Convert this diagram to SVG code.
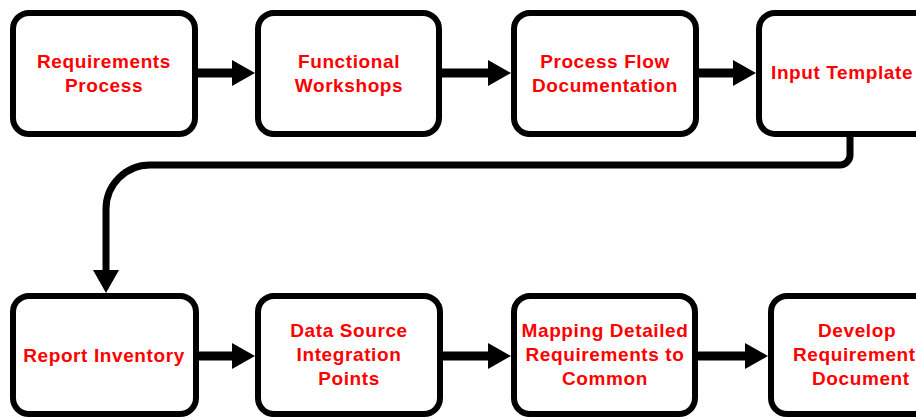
<svg xmlns="http://www.w3.org/2000/svg" width="916" height="419" viewBox="0 0 916 419">
  <style>
    .box { fill: #ffffff; stroke: #000000; stroke-width: 6; }
    .lbl { font-family: "Liberation Sans", Arial, sans-serif; font-weight: bold; font-size: 19px; fill: #ff0000; letter-spacing: 0.6px; }
    .mid { text-anchor: middle; }
    .shaft { fill: none; stroke: #000000; stroke-width: 9; }
    .conn { fill: none; stroke: #000000; stroke-width: 7; }
  </style>
  <defs>
    <marker id="ah" markerUnits="userSpaceOnUse" markerWidth="23" markerHeight="26" viewBox="0 0 23 26" refX="5" refY="13" orient="auto">
      <path d="M0,0 L23,13 L0,26 Z" fill="#000000"/>
    </marker>
  </defs>
  <rect width="916" height="419" fill="#ffffff"/>

  <g id="connectors">
    <path class="shaft" d="M195,73 H237" marker-end="url(#ah)"/>
    <path class="shaft" d="M439,73 H493" marker-end="url(#ah)"/>
    <path class="shaft" d="M696,73 H738" marker-end="url(#ah)"/>
    <path class="conn" d="M850,134 V155 A10,10 0 0 1 840,165 H150 A44,44 0 0 0 106,209 V275" marker-end="url(#ah)"/>
    <path class="shaft" d="M196,356 H237" marker-end="url(#ah)"/>
    <path class="shaft" d="M440,356 H493" marker-end="url(#ah)"/>
    <path class="shaft" d="M695,356 H750" marker-end="url(#ah)"/>
  </g>

  <g id="n1">
    <rect class="box" x="13" y="13" width="182" height="121" rx="16"/>
    <text class="lbl mid" x="104" y="68">Requirements</text>
    <text class="lbl mid" x="104" y="92">Process</text>
  </g>
  <g id="n2">
    <rect class="box" x="258" y="13" width="181" height="121" rx="16"/>
    <text class="lbl mid" x="349" y="68">Functional</text>
    <text class="lbl mid" x="349" y="92">Workshops</text>
  </g>
  <g id="n3">
    <rect class="box" x="514" y="13" width="182" height="121" rx="16"/>
    <text class="lbl mid" x="605" y="68">Process Flow</text>
    <text class="lbl mid" x="605" y="92">Documentation</text>
  </g>
  <g id="n4">
    <rect class="box" x="759" y="13" width="182" height="121" rx="16"/>
    <text class="lbl" x="771" y="79">Input Template</text>
  </g>

  <g id="n5">
    <rect class="box" x="13" y="296" width="183" height="118" rx="16"/>
    <text class="lbl mid" x="104" y="362">Report Inventory</text>
  </g>
  <g id="n6">
    <rect class="box" x="258" y="296" width="182" height="118" rx="16"/>
    <text class="lbl mid" x="349" y="337">Data Source</text>
    <text class="lbl mid" x="349" y="361">Integration</text>
    <text class="lbl mid" x="349" y="385">Points</text>
  </g>
  <g id="n7">
    <rect class="box" x="514" y="296" width="181" height="118" rx="16"/>
    <text class="lbl mid" x="605" y="337">Mapping Detailed</text>
    <text class="lbl mid" x="605" y="361">Requirements to</text>
    <text class="lbl mid" x="605" y="385">Common</text>
  </g>
  <g id="n8">
    <rect class="box" x="771" y="296" width="182" height="118" rx="16"/>
    <text class="lbl" x="818" y="337">Develop</text>
    <text class="lbl" x="793" y="361">Requirement</text>
    <text class="lbl" x="812" y="385">Document</text>
  </g>
</svg>
